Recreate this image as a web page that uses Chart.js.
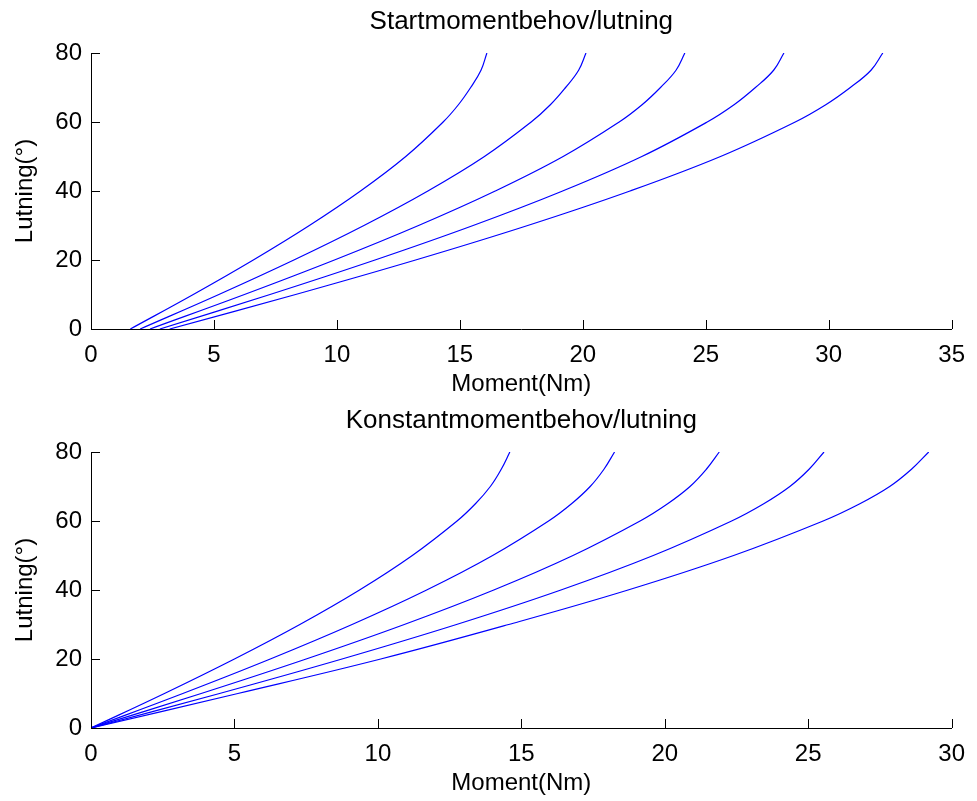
<!DOCTYPE html>
<html>
<head>
<meta charset="utf-8">
<script src="https://cdn.jsdelivr.net/npm/chart.js@4.4.1/dist/chart.umd.min.js"></script>
<style>
  html, body { margin: 0; padding: 0; background: #fff; }
  .plot { position: absolute; left: 0; width: 977px; height: 400px; }
</style>
</head>
<body>
<div class="plot" style="top:0"><canvas id="startChart" width="977" height="400"></canvas></div>
<div class="plot" style="top:399px"><canvas id="constChart" width="977" height="400"></canvas></div>
<script>
// lutning (degrees) levels at which the curves were read
const lutning = [0, 10, 20, 30, 40, 50, 60, 65, 70, 75, 80];

// Startmoment (Nm), one array per curve
const start1 = [1.60, 4.16, 6.60, 8.88, 10.96, 12.80, 14.32, 14.94, 15.44, 15.86, 16.10];
const start2 = [2.00, 5.20, 8.25, 11.10, 13.70, 16.00, 17.90, 18.68, 19.30, 19.83, 20.13];
const start3 = [2.40, 6.24, 9.90, 13.32, 16.44, 19.20, 21.48, 22.41, 23.16, 23.79, 24.15];
const start4 = [2.80, 7.28, 11.55, 15.54, 19.18, 22.40, 25.06, 26.15, 27.02, 27.76, 28.18];
const start5 = [3.20, 8.32, 13.20, 17.76, 21.92, 25.60, 28.64, 29.88, 30.88, 31.72, 32.20];

// Konstantmoment (Nm), one array per curve
const konst1 = [0, 2.56, 5.00, 7.28, 9.36, 11.20, 12.76, 13.40, 13.92, 14.30, 14.60];
const konst2 = [0, 3.20, 6.25, 9.10, 11.70, 14.00, 15.95, 16.75, 17.40, 17.88, 18.25];
const konst3 = [0, 3.84, 7.50, 10.92, 14.04, 16.80, 19.14, 20.10, 20.88, 21.45, 21.90];
const konst4 = [0, 4.48, 8.75, 12.74, 16.38, 19.60, 22.33, 23.45, 24.36, 25.03, 25.55];
const konst5 = [0, 5.12, 10.10, 14.56, 18.72, 22.40, 25.52, 26.80, 27.84, 28.60, 29.20];

const xTickMax = [35, 30];
const yTicks = [0, 20, 40, 60, 80];

const FONT = '"Liberation Sans", Arial, Helvetica, sans-serif';

// MATLAB style: title over the axes centre, ticks pointing inwards
const axesDecor = {
  id: 'axesDecor',
  afterDraw(chart, args, opts) {
    const { ctx, chartArea: a, scales: { x, y } } = chart;
    ctx.save();
    ctx.strokeStyle = '#000';
    ctx.lineWidth = 1;
    ctx.beginPath();
    x.ticks.forEach((t, i) => {
      const px = Math.round(x.getPixelForTick(i)) + 0.5;
      ctx.moveTo(px, a.bottom);
      ctx.lineTo(px, a.bottom - 9);
    });
    y.ticks.forEach((t, i) => {
      const py = Math.round(y.getPixelForTick(i)) + 0.5;
      ctx.moveTo(a.left, py);
      ctx.lineTo(a.left + 9, py);
    });
    ctx.stroke();
    ctx.fillStyle = '#000';
    ctx.font = '26px ' + FONT;
    ctx.textAlign = 'center';
    ctx.textBaseline = 'middle';
    ctx.fillText(opts.title, (a.left + a.right) / 2, 22);
    ctx.restore();
  }
};

function curves(levels, list) {
  return list.map(xs => ({
    data: xs.map((v, i) => ({ x: v, y: levels[i] })),
    borderColor: '#0000ff',
    borderWidth: 1.2,
    pointRadius: 0,
    fill: false,
    tension: 0.4
  }));
}

function makeChart(id, title, datasets, xMax) {
  const tickFont = { family: FONT, size: 24 };
  return new Chart(document.getElementById(id), {
    type: 'line',
    data: { datasets: datasets },
    options: {
      responsive: false,
      animation: false,
      layout: { padding: { top: 53, right: 16, left: 0, bottom: 0 } },
      plugins: { legend: { display: false }, tooltip: { enabled: false }, axesDecor: { title: title } },
      scales: {
        x: {
          type: 'linear', min: 0, max: xMax,
          ticks: { stepSize: 5, color: '#000', font: tickFont, padding: 12, maxRotation: 0 },
          grid: { display: true, drawOnChartArea: false, drawTicks: false },
          border: { color: '#000', width: 1 },
          title: { display: true, text: 'Moment(Nm)', color: '#000', font: tickFont, padding: { top: 0, bottom: 1 } },
          afterFit: s => { s.height = 71; }
        },
        y: {
          type: 'linear', min: 0, max: 80,
          afterBuildTicks: s => { s.ticks = yTicks.map(v => ({ value: v })); },
          ticks: { color: '#000', font: tickFont, padding: 9 },
          grid: { display: true, drawOnChartArea: false, drawTicks: false },
          border: { color: '#000', width: 1 },
          title: { display: true, text: 'Lutning(°)', color: '#000', font: tickFont, padding: { top: 11, bottom: 0 } },
          afterFit: s => { s.width = 91; }
        }
      }
    },
    plugins: [axesDecor]
  });
}

makeChart('startChart', 'Startmomentbehov/lutning',
  curves(lutning, [start1, start2, start3, start4, start5]), xTickMax[0]);
makeChart('constChart', 'Konstantmomentbehov/lutning',
  curves(lutning, [konst1, konst2, konst3, konst4, konst5]), xTickMax[1]);
</script>
</body>
</html>
